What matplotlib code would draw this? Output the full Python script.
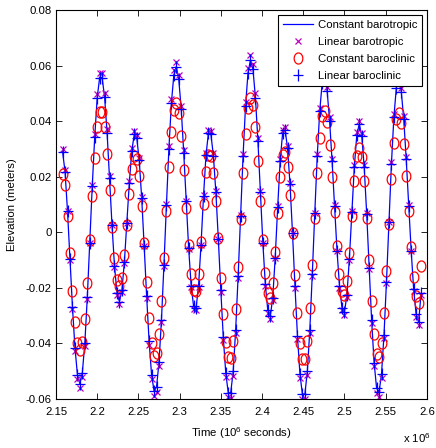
import numpy as np
import matplotlib
matplotlib.use("Agg")
import matplotlib.pyplot as plt
from matplotlib import font_manager
from matplotlib.path import Path

# the reference text is tall and narrow: use the narrow face when present
names = {f.name for f in font_manager.fontManager.ttflist}
if 'Liberation Sans Narrow' in names:
    font_name, fs = 'Liberation Sans Narrow', 9.8
else:
    font_name, fs = 'Liberation Sans', 8.2
plt.rcParams['font.family'] = [font_name, 'DejaVu Sans']
plt.rcParams['mathtext.default'] = 'regular'

# model output times: start and step, in 10^6 seconds
t_start = 2.158
t_step = 0.003

# elevations, in millimetres
constant_barotropic = [
    29.0, 21.8, 7.5, -9.5, -26.9, -41.5, -51.2, -54.5, -50.5, -39.9,
    -23.4, -3.7, 16.5, 34.3, 48.4, 55.7, 55.7, 48.6, 35.9, 19.5,
    2.5, -12.1, -21.8, -25.0, -20.9, -10.6, 3.3, 17.8, 29.4, 35.2,
    34.0, 26.0, 12.3, -4.9, -23.0, -39.3, -51.3, -57.1, -55.7, -46.8,
    -31.5, -11.7, 9.7, 30.0, 46.4, 56.6, 59.6, 55.0, 44.2, 28.7,
    11.1, -5.8, -19.2, -26.7, -27.3, -19.2, -4.4, 12.9, 27.7, 35.8,
    35.2, 27.6, 14.4, -2.5, -20.9, -37.8, -50.6, -57.7, -57.8, -50.1,
    -35.3, -15.9, 6.0, 27.5, 45.4, 57.4, 62.0, 58.7, 48.5, 33.0,
    14.5, -3.7, -18.7, -28.1, -30.3, -23.6, -9.1, 9.0, 25.6, 35.7,
    36.9, 30.2, 17.2, -0.3, -19.5, -37.3, -50.9, -58.3, -58.3, -50.0,
    -35.1, -15.1, 6.8, 27.4, 43.5, 53.8, 55.8, 50.9, 40.2, 25.7,
    9.4, -6.6, -19.3, -27.1, -28.8, -22.6, -9.5, 7.3, 23.5, 35.0,
    39.0, 34.8, 23.4, 6.7, -12.8, -31.7, -46.9, -56.0, -57.6, -51.0,
    -37.0, -17.9, 3.6, 24.5, 41.4, 52.1, 55.0, 50.6, 40.6, 26.2,
    9.6, -6.7, -20.5, -29.5, -32.4, -22.0,
]

linear_barotropic = [
    29.9, 22.5, 7.7, -9.8, -27.7, -42.7, -52.7, -56.1, -52.0, -41.1,
    -24.1, -3.8, 17.0, 35.3, 49.9, 57.4, 57.4, 50.1, 37.0, 20.1,
    2.6, -12.5, -22.5, -25.8, -21.5, -10.9, 3.4, 18.3, 30.3, 36.3,
    35.0, 26.8, 12.7, -5.0, -23.7, -40.5, -52.8, -58.8, -57.4, -48.2,
    -32.4, -12.1, 10.0, 30.9, 47.8, 58.3, 61.4, 56.7, 45.5, 29.6,
    11.4, -6.0, -19.8, -27.5, -28.1, -19.8, -4.5, 13.3, 28.5, 36.9,
    36.3, 28.4, 14.8, -2.6, -21.5, -38.9, -52.1, -59.4, -59.5, -51.6,
    -36.4, -16.4, 6.2, 28.3, 46.8, 59.1, 63.9, 60.5, 50.0, 34.0,
    14.9, -3.8, -19.3, -28.9, -31.2, -24.3, -9.4, 9.3, 26.4, 36.8,
    38.0, 31.1, 17.7, -0.3, -20.1, -38.4, -52.4, -60.0, -60.0, -51.5,
    -36.2, -15.6, 7.0, 28.2, 44.8, 55.4, 57.5, 52.4, 41.4, 26.5,
    9.7, -6.8, -19.9, -27.9, -29.7, -23.3, -9.8, 7.5, 24.2, 36.1,
    40.2, 35.8, 24.1, 6.9, -13.2, -32.7, -48.3, -57.7, -59.3, -52.5,
    -38.1, -18.4, 3.7, 25.2, 42.6, 53.7, 56.7, 52.1, 41.8, 27.0,
    9.9, -6.9, -21.1, -30.4, -33.4, -22.7,
]

constant_baroclinic = [
    21.0, 17.0, 5.9, -7.4, -21.0, -32.4, -39.9, -42.5, -39.4, -31.1,
    -18.3, -2.9, 12.9, 26.8, 37.8, 43.4, 43.4, 37.9, 28.0, 15.2,
    2.0, -9.4, -17.0, -19.5, -16.3, -8.3, 2.6, 13.9, 22.9, 27.5,
    26.5, 20.3, 9.6, -3.8, -17.9, -30.7, -40.0, -44.5, -43.4, -36.5,
    -24.6, -9.1, 7.6, 23.4, 36.2, 44.1, 46.5, 42.9, 34.5, 22.4,
    8.7, -4.5, -15.0, -20.8, -21.3, -15.0, -3.4, 10.1, 21.6, 27.9,
    27.5, 21.5, 11.2, -2.0, -16.3, -29.5, -39.5, -45.0, -45.1, -39.1,
    -27.5, -12.4, 4.7, 21.5, 35.4, 44.8, 48.4, 45.8, 37.8, 25.7,
    11.3, -2.9, -14.6, -21.9, -23.6, -18.4, -7.1, 7.0, 20.0, 27.8,
    28.8, 23.6, 13.4, -0.2, -15.2, -29.1, -39.7, -45.5, -45.5, -39.0,
    -27.4, -11.8, 5.3, 21.4, 33.9, 42.0, 43.5, 39.7, 31.4, 20.0,
    7.3, -5.1, -15.1, -21.1, -22.5, -17.6, -7.4, 5.7, 18.3, 27.3,
    30.4, 27.1, 18.3, 5.2, -10.0, -24.7, -36.6, -43.7, -44.9, -39.8,
    -28.9, -14.0, 2.8, 19.1, 32.3, 40.6, 42.9, 39.5, 31.7, 20.4,
    7.5, -5.2, -16.0, -23.0, -25.3, -12.0,
]

# the + markers sit on the constant barotropic line
linear_baroclinic = list(constant_barotropic)

labels = ["Constant barotropic", "Linear barotropic",
          "Constant baroclinic", "Linear baroclinic"]

t = t_start + t_step * np.arange(len(constant_barotropic))
mm = 1000.0

# circles and pluses in the reference look a bit taller than wide
theta = np.linspace(0, 2 * np.pi, 41)
tall_circle = Path(np.column_stack([0.78 * np.cos(theta), np.sin(theta)]), closed=True)
tall_plus = Path([(-0.8, 0), (0.8, 0), (0, -1), (0, 1)],
                 [Path.MOVETO, Path.LINETO, Path.MOVETO, Path.LINETO])

fig = plt.figure(figsize=(4.36, 4.48), dpi=100)
ax = fig.add_axes([0.1284, 0.1094, 0.8506, 0.8683])

ax.plot(t, np.array(constant_barotropic) / mm, '-', color='b', lw=0.9,
        label=labels[0])
ax.plot(t, np.array(linear_barotropic) / mm, 'x', color='m', ms=4.5,
        mew=0.9, label=labels[1])
ax.plot(t, np.array(constant_baroclinic) / mm, ls='none', marker=tall_circle,
        mfc='none', mec='r', ms=8, mew=0.9, label=labels[2])
ax.plot(t, np.array(linear_baroclinic) / mm, ls='none', marker=tall_plus,
        color='b', ms=8.5, mew=0.9, label=labels[3])

ax.set_xlim(2.15, 2.6)
ax.set_ylim(-0.06, 0.08)
ax.set_xticks(np.arange(2.15, 2.6001, 0.05))
ax.set_yticks(np.arange(-0.06, 0.0801, 0.02))
ax.set_xticklabels(['%g' % round(v, 2) for v in ax.get_xticks()])
ax.set_yticklabels(['%g' % round(v, 2) for v in ax.get_yticks()])
ax.tick_params(direction='in', top=True, right=True, length=4.5, width=0.6,
               labelsize=fs, pad=3)
ax.tick_params(axis='x', pad=6)
for s in ax.spines.values():
    s.set_linewidth(0.8)

ax.set_xlabel('Time (10$^6$ seconds)', fontsize=fs, labelpad=6)
ax.set_ylabel('Elevation (meters)', fontsize=fs, labelpad=6)
fig.text(0.925, 0.022, 'x 10$^6$', fontsize=fs, va='center')

leg = ax.legend(loc='upper right', fontsize=fs, fancybox=False,
                edgecolor='k', framealpha=1, handlelength=2.6,
                borderaxespad=0.4, labelspacing=0.62, handletextpad=0.4,
                borderpad=0.45)
leg.get_frame().set_linewidth(0.8)

fig.savefig('out.png', dpi=100)
